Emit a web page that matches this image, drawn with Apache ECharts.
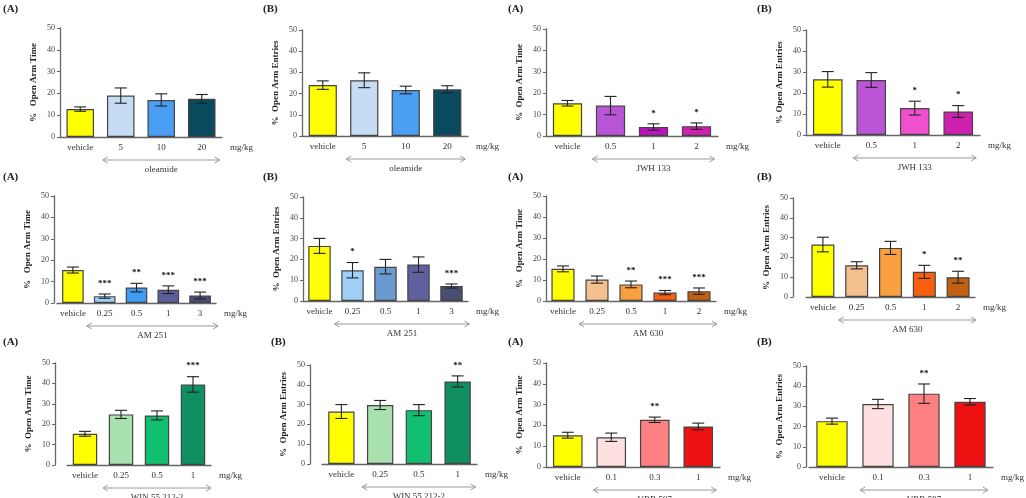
<!DOCTYPE html>
<html><head><meta charset="utf-8">
<script src="https://cdn.jsdelivr.net/npm/echarts@6/dist/echarts.min.js"></script>
<style>html,body{margin:0;padding:0;background:#fff}#c{width:1026px;height:498px}</style>
</head><body><div id="c"></div>
<script>
// ---- data ----
const catOleamide = ['vehicle','5','10','20'];
const catJWH = ['vehicle','0.5','1','2'];
const catAM251 = ['vehicle','0.25','0.5','1','3'];
const catAM630 = ['vehicle','0.25','0.5','1','2'];
const catWIN = ['vehicle','0.25','0.5','1'];
const catURB = ['vehicle','0.1','0.3','1'];

const oleTimeMean = [12.8,19,17,17.5];      const oleTimeErr = [1,3.5,2.8,2];
const oleEntMean = [24,26.3,21.7,22];       const oleEntErr = [2,3.5,1.8,1.7];
const jwhTimeMean = [15.3,14.2,4.2,4.6];    const jwhTimeErr = [1.3,4.3,1.5,1.5];
const jwhTimeSig = ['','','*','*'];
const jwhEntMean = [26.5,26.2,12.8,11.2];   const jwhEntErr = [3.7,3.5,3.3,2.8];
const jwhEntSig = ['','','*','*'];
const am251TimeMean = [15.4,3.2,7.2,6.2,3.5]; const am251TimeErr = [1.4,1,2,1.8,1.6];
const am251TimeSig = ['','***','**','***','***'];
const am251EntMean = [26.5,14.8,16.5,17.5,7.2]; const am251EntErr = [3.6,3.7,3.5,3.7,1];
const am251EntSig = ['','*','','','***'];
const am630TimeMean = [15.3,10.2,7.9,4,4.7]; const am630TimeErr = [1.4,1.7,1.6,1,1.5];
const am630TimeSig = ['','','**','***','***'];
const am630EntMean = [26.5,16,24.8,12.7,10]; const am630EntErr = [3.7,1.8,3.3,3.3,3];
const am630EntSig = ['','','','*','**'];
const winTimeMean = [15.3,24.8,24.3,39.5];  const winTimeErr = [1.2,2,2.2,3.8];
const winTimeSig = ['','','','***'];
const winEntMean = [26.5,29.8,27.2,41.7];   const winEntErr = [3.5,2.3,2.8,2.8];
const winEntSig = ['','','','**'];
const urbTimeMean = [15.3,14.3,22.7,19.5];  const urbTimeErr = [1.4,2,1.3,1.6];
const urbTimeSig = ['','','**',''];
const urbEntMean = [22.7,31.2,36.3,32.3];   const urbEntErr = [1.5,2.3,4.8,1.6];
const urbEntSig = ['','','**',''];
const yTicks = [0,10,20,30,40,50];

// ---- styling / layout ----
const Y='#ffff00';
const panels = [
 {cats:catOleamide,m:oleTimeMean,e:oleTimeErr,drug:'oleamide',yname:'%   Open Arm Time',g:[60,28,222,137],col:[Y,'#c6dcf5','#4a9ff5','#0a4a5e'],lab:'(A)',lp:[3,4]},
 {cats:catOleamide,m:oleEntMean,e:oleEntErr,drug:'oleamide',yname:'%  Open Arm Entries',g:[302,30,468,136],col:[Y,'#c6dcf5','#4a9ff5','#0a4a5e'],lab:'(B)',lp:[263,4]},
 {cats:catJWH,m:jwhTimeMean,e:jwhTimeErr,s:jwhTimeSig,drug:'JWH 133',yname:'%  Open Arm Time',g:[546,29,718,136],col:[Y,'#b955d6','#c010c0','#d020b0'],lab:'(A)',lp:[508,4]},
 {cats:catJWH,m:jwhEntMean,e:jwhEntErr,s:jwhEntSig,drug:'JWH 133',yname:'% Open Arm Entries',g:[806,30,980,135],col:[Y,'#b955d6','#f050d0','#d020b0'],lab:'(B)',lp:[757,4]},
 {cats:catAM251,m:am251TimeMean,e:am251TimeErr,s:am251TimeSig,drug:'AM 251',yname:'%   Open Arm Time',g:[57,196,216,303],col:[Y,'#a0d0f8','#3f9cf0','#5a5f9a','#4a4e7a'],lab:'(A)',lp:[3,172],off:3},
 {cats:catAM251,m:am251EntMean,e:am251EntErr,s:am251EntSig,drug:'AM 251',yname:'%  Open Arm Entries',g:[303,197,468,301],col:[Y,'#a0d0f8','#6a9ad0','#60609e','#4a4e72'],lab:'(B)',lp:[263,172]},
 {cats:catAM630,m:am630TimeMean,e:am630TimeErr,s:am630TimeSig,drug:'AM 630',yname:'%   Open Arm Time',g:[546,196,716,301],col:[Y,'#f5c090','#f8a040','#f86010','#c06010'],lab:'(A)',lp:[508,172]},
 {cats:catAM630,m:am630EntMean,e:am630EntErr,s:am630EntSig,drug:'AM 630',yname:'%  Open Arm Entries',g:[806,198,975,297],col:[Y,'#f5c090','#f8a040','#f86010','#c06010'],lab:'(B)',lp:[757,172],off:13},
 {cats:catWIN,m:winTimeMean,e:winTimeErr,s:winTimeSig,drug:'WIN 55,212-2',yname:'%  Open Arm Time',g:[67,363,211,465],col:[Y,'#a8e0b0','#10c070','#109060'],lab:'(A)',lp:[3,337],off:12},
 {cats:catWIN,m:winEntMean,e:winEntErr,s:winEntSig,drug:'WIN 55,212-2',yname:'%  Open Arm Entries',g:[322,365,477,464],col:[Y,'#a8e0b0','#10c070','#109060'],lab:'(B)',lp:[271,337],off:12},
 {cats:catURB,m:urbTimeMean,e:urbTimeErr,s:urbTimeSig,drug:'URB 597',yname:'%   Open Arm Time',g:[546,363,720,467],col:[Y,'#ffe0e0','#ff8080','#ee1111'],lab:'(A)',lp:[508,337]},
 {cats:catURB,m:urbEntMean,e:urbEntErr,s:urbEntSig,drug:'URB 597',yname:'%  Open Arm Entries',g:[809,366,993,467],col:[Y,'#ffe0e0','#ff8080','#ee1111'],lab:'(B)',lp:[757,337],off:3},
];
const FONT='"Liberation Serif", serif';
const grid=[],xAxis=[],yAxis=[],series=[],graphic=[];
panels.forEach((p,i)=>{
  grid.push({left:p.g[0],top:p.g[1],width:p.g[2]-p.g[0],height:p.g[3]-p.g[1]});
  xAxis.push({type:'category',gridIndex:i,data:p.cats,axisTick:{show:false},
    axisLine:{lineStyle:{color:'#666',width:1.3}},
    axisLabel:{fontFamily:FONT,fontSize:9,color:'#333',margin:6,interval:0},
    name:'mg/kg',nameLocation:'end',nameGap:8,nameTextStyle:{fontFamily:FONT,fontSize:9,color:'#333',verticalAlign:'top',padding:[6,0,0,0]}});
  yAxis.push({type:'value',gridIndex:i,min:0,max:50,interval:10,offset:p.off||0,splitLine:{show:false},
    axisLine:{show:true,lineStyle:{color:'#666',width:1.3}},axisTick:{show:true,length:3,lineStyle:{color:'#666'}},
    axisLabel:{fontFamily:FONT,fontSize:8,color:'#444',margin:5},
    name:p.yname,nameLocation:'middle',nameGap:22,nameTextStyle:{fontFamily:FONT,fontSize:9,fontWeight:'bold',color:'#222'}});
  series.push({type:'bar',xAxisIndex:i,yAxisIndex:i,barWidth:'68%',
    data:p.m.map((v,k)=>({value:v,itemStyle:{color:p.col[k]}})),
    itemStyle:{borderColor:'#444',borderWidth:1.2},silent:true});
  const sig=p.s||[];
  series.push({type:'custom',xAxisIndex:i,yAxisIndex:i,silent:true,z:5,
    data:p.m.map((v,k)=>[k,v,p.e[k]]),
    renderItem:(params,api)=>{
      const x=api.value(0),m=api.value(1),e=api.value(2);
      const top=api.coord([x,m+e]),bot=api.coord([x,m-e]);
      const w=6,ls={stroke:'#222',lineWidth:1.1};
      const ch=[
        {type:'line',shape:{x1:top[0],y1:top[1],x2:bot[0],y2:bot[1]},style:ls},
        {type:'line',shape:{x1:top[0]-w,y1:top[1],x2:top[0]+w,y2:top[1]},style:ls},
        {type:'line',shape:{x1:bot[0]-w,y1:bot[1],x2:bot[0]+w,y2:bot[1]},style:ls}];
      const s=sig[params.dataIndex];
      if(s) ch.push({type:'text',style:{x:top[0],y:top[1]-6,text:s,fill:'#111',font:'bold 9px '+FONT,align:'center',verticalAlign:'bottom'}});
      return {type:'group',children:ch};
    }});
  graphic.push({type:'text',left:p.lp[0],top:p.lp[1],style:{text:p.lab,font:'bold 11px '+FONT,fill:'#222'}});
});
const chart=echarts.init(document.getElementById('c'));
chart.setOption({animation:false,grid,xAxis,yAxis,series,graphic});
// drug arrows under dose categories
const extra=[];
panels.forEach((p,i)=>{
  const a=chart.convertToPixel({xAxisIndex:i,yAxisIndex:i},[1,0]);
  const b=chart.convertToPixel({xAxisIndex:i,yAxisIndex:i},[p.cats.length-1,0]);
  const x1=a[0]-18,x2=b[0]+18,y=a[1]+23;
  const st={stroke:'#999',lineWidth:1};
  extra.push({type:'line',shape:{x1,y1:y,x2,y2:y},style:st,silent:true});
  extra.push({type:'polyline',shape:{points:[[x1+5,y-3],[x1,y],[x1+5,y+3]]},style:st});
  extra.push({type:'polyline',shape:{points:[[x2-5,y-3],[x2,y],[x2-5,y+3]]},style:st});
  extra.push({type:'text',x:(x1+x2)/2,y:y+5,style:{text:p.drug,font:'9px '+FONT,fill:'#333',align:'center'}});
});
chart.setOption({graphic:graphic.concat(extra)});
</script></body></html>
